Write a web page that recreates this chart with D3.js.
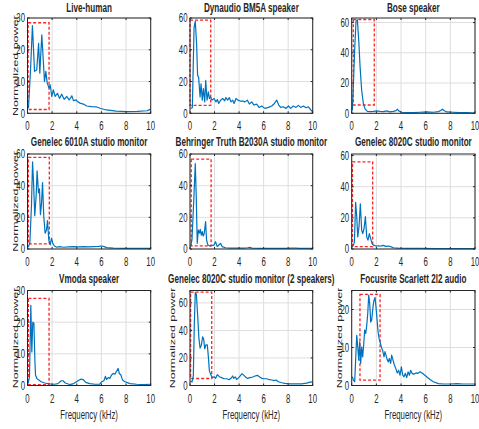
<!DOCTYPE html>
<html>
<head>
<meta charset="utf-8">
<script src="https://cdn.jsdelivr.net/npm/d3@7"></script>
<style>
  body { margin: 0; background: #fff; }
  text { font-family: "Liberation Sans", Arial, sans-serif; fill: #262626; }
</style>
</head>
<body>
<svg width="479" height="429"></svg>
<script>
// panel titles, y limits and y ticks
var titles = ["Live-human", "Dynaudio BM5A speaker", "Bose speaker",
  "Genelec 6010A studio monitor", "Behringer Truth B2030A studio monitor", "Genelec 8020C studio monitor",
  "Vmoda speaker", "Genelec 8020C studio monitor (2 speakers)", "Focusrite Scarlett 2l2 audio"];
var yMax = [30, 60, 63, 60, 60, 61, 30, 69, 25];
var yTicks = [[0,10,20,30],[0,20,40,60],[0,20,40,60],[0,20,40,60],[0,20,40,60],[0,20,40,60],[0,10,20,30],[0,20,40,60],[0,10,20]];
var xTicks = [0, 2, 4, 6, 8, 10];
// red dashed boxes [f0, f1, p0, p1]
var redBoxes = [[0.05,1.75,1.2,28.5],[0,1.69,5,58.6],[0.13,1.83,5.5,62],[0.07,1.77,3.2,57.9],[0.1,1.72,2,56.8],
  [0.06,1.7,1.5,56],[0.07,1.75,0.3,27.5],[0.05,1.77,5.1,67.8],[0.67,2.3,1.4,24]];

// spectra: [frequency kHz, normalized power]
var liveHuman = [[0.08,1.6],[0.25,14],[0.4,27.6],[0.57,13.2],[0.75,13.7],[0.9,22],[1.0,12.6],[1.16,24.7],[1.38,10],[1.49,13.2],[1.6,9.5],[1.76,7.9],[1.84,9],[1.97,5.3],[2.1,7.4],[2.24,5.3],[2.43,6.3],[2.6,4.7],[2.78,6],[2.97,4.4],[3.19,5.3],[3.38,4.2],[3.6,5.5],[3.73,4],[3.95,4.2],[4.05,3.7],[4.27,3.2],[4.54,2.9],[4.8,2.3],[5.2,2.1],[5.6,2.0],[5.9,1.6],[6.4,1.05],[7.2,0.7],[8.05,0.5],[8.9,0.6],[9.7,0.8],[10,1.3]];
var dynaudio = [[0.05,3.1],[0.19,3.5],[0.33,53.8],[0.43,58],[0.54,43.5],[0.62,23.8],[0.7,22.8],[0.82,10.3],[0.9,18.6],[1.0,8.3],[1.09,15.5],[1.2,7.2],[1.28,20.7],[1.39,8.3],[1.5,13.5],[1.58,9.3],[1.68,10.3],[1.79,8.3],[1.96,9.3],[2.12,7.2],[2.23,8.7],[2.34,6.2],[2.5,8.3],[2.66,9.3],[2.83,7.9],[2.93,9.9],[3.07,8.3],[3.2,9.9],[3.34,7.2],[3.48,8.3],[3.59,6.2],[3.75,9.3],[3.91,8.3],[4.08,7.7],[4.3,7.7],[4.48,7.2],[4.67,8.3],[4.84,5.8],[5.03,7.2],[5.22,5.2],[5.43,5.8],[5.63,3.7],[5.84,4.6],[6.11,3.1],[6.39,3.7],[6.66,4.6],[6.88,6.2],[7.07,8.3],[7.23,5.2],[7.39,3.7],[7.6,4.1],[7.83,3.1],[8.02,4.6],[8.2,3.1],[8.42,4.6],[8.64,3.7],[8.83,5.0],[9.02,3.7],[9.24,4.6],[9.46,3.5],[9.65,4.1],[9.84,2.1],[10,1.0]];
var bose = [[0.05,1.8],[0.14,19.6],[0.24,41.8],[0.35,60.7],[0.46,61.8],[0.57,48.4],[0.68,30.7],[0.81,15.1],[0.95,6.2],[1.08,2.9],[1.27,1.3],[1.49,1.1],[1.76,1.3],[2.03,1.6],[2.3,1.3],[2.57,1.1],[2.84,1.6],[3.1,0.9],[3.38,1.3],[3.6,1.8],[3.7,2.7],[3.81,1.6],[4.05,0.7],[4.46,0.4],[5.0,0.4],[5.54,0.7],[6.08,0.9],[6.62,0.7],[7.03,1.1],[7.22,1.8],[7.35,2.7],[7.49,1.8],[7.7,0.9],[8.24,0.7],[8.78,0.4],[9.32,0.4],[10,0.2]];
var genelec6010 = [[0.05,1.1],[0.19,3.6],[0.32,27],[0.41,55],[0.49,42],[0.59,21],[0.7,33.4],[0.78,49.4],[0.89,35.5],[0.97,38],[1.05,21.7],[1.14,29],[1.22,42],[1.32,20.6],[1.43,10],[1.54,12],[1.62,18],[1.73,5.7],[1.84,2.6],[1.95,6.8],[2.05,3.6],[2.19,1.9],[2.38,1.1],[2.59,1.5],[2.92,1.1],[3.32,1.3],[3.73,1.5],[4.14,1.3],[4.54,1.5],[4.95,1.3],[5.35,1.5],[5.76,1.7],[6.03,1.9],[6.22,1.5],[6.43,0.9],[6.97,0.6],[7.78,0.4],[8.86,0.4],[10,0.4]];
var behringer = [[0.05,1.5],[0.16,5.7],[0.32,33],[0.43,54],[0.51,33],[0.59,3.6],[0.68,12],[0.76,10],[0.84,12.4],[0.92,8.8],[1.0,11],[1.08,8.2],[1.16,9.9],[1.27,17.3],[1.35,5.7],[1.46,2.5],[1.62,1.9],[1.81,2.3],[1.95,2.5],[2.08,4.6],[2.22,1.5],[2.35,2.5],[2.49,3.6],[2.62,1.5],[2.89,0.8],[3.3,0.6],[3.84,0.6],[4.38,0.6],[4.7,0.8],[4.86,1.0],[5.05,0.6],[5.73,0.4],[6.81,0.4],[7.89,0.4],[8.3,0.6],[8.57,0.6],[8.97,0.4],[10,0.4]];
var genelec8020 = [[0.05,1.5],[0.14,2.5],[0.22,4.6],[0.32,30],[0.41,20.4],[0.49,7.8],[0.59,14],[0.7,29],[0.81,12],[0.89,9.9],[1.0,13],[1.11,20.8],[1.22,7.8],[1.32,5.7],[1.43,9.9],[1.54,6.7],[1.65,3.6],[1.76,2.5],[1.97,1.9],[2.16,2.1],[2.35,1.9],[2.57,2.3],[2.76,1.7],[2.97,1.9],[3.16,1.5],[3.38,0.8],[3.78,0.6],[4.46,0.4],[5.54,0.4],[6.89,0.2],[8.24,0.2],[10,0.2]];
var vmoda = [[0.05,0.6],[0.16,2.7],[0.27,25.3],[0.35,10.6],[0.43,20],[0.52,19.7],[0.6,8],[0.65,3.3],[0.76,2.2],[0.92,1.7],[1.11,1.2],[1.39,0.8],[1.79,0.5],[2.2,0.4],[2.47,0.6],[2.74,1.5],[2.88,1.5],[3.07,0.8],[3.42,0.3],[3.75,0.6],[4.1,1.5],[4.32,2.0],[4.51,1.9],[4.73,1.0],[5.05,0.6],[5.46,0.4],[5.87,0.4],[6.03,1.2],[6.2,1.5],[6.33,2.9],[6.41,1.9],[6.55,2.5],[6.68,2.2],[6.82,3.3],[6.96,3.8],[7.09,3.6],[7.23,4.5],[7.36,5.4],[7.45,3.8],[7.58,3.3],[7.72,1.7],[7.91,1.2],[8.32,0.6],[8.86,0.4],[9.4,0.3],[10,0.4]];
var genelecTwo = [[0.05,3.2],[0.16,2.5],[0.27,6.9],[0.35,44],[0.43,67.4],[0.52,66.2],[0.62,51.4],[0.73,34],[0.82,27.2],[0.92,29.1],[1.03,35.3],[1.11,34],[1.2,26.7],[1.3,29.6],[1.41,29.6],[1.49,21.7],[1.58,10.6],[1.68,8.1],[1.82,5.7],[1.96,6.4],[2.09,5.2],[2.23,7.9],[2.39,6.4],[2.58,5.7],[2.77,4.9],[2.99,4.9],[3.18,4.2],[3.34,5.2],[3.48,6.9],[3.56,5.2],[3.7,6.2],[3.8,4.4],[3.97,5.7],[4.13,7.4],[4.24,8.6],[4.35,7.7],[4.51,6.4],[4.67,5.2],[4.89,5.7],[5.11,6.2],[5.3,6.9],[5.49,7.4],[5.65,6.4],[5.84,5.2],[6.03,4.9],[6.25,4.9],[6.47,4.2],[6.66,4.0],[6.85,3.5],[7.01,4.0],[7.2,2.7],[7.47,2.0],[7.74,1.5],[8.15,1.2],[8.7,1.2],[9.1,1.2],[9.51,1.7],[9.78,2.5],[10,2.7]];
var focusrite = [[0.05,2.3],[0.14,1.4],[0.24,1.0],[0.32,6.7],[0.41,13.2],[0.49,10.2],[0.57,6.7],[0.65,11.5],[0.73,5.8],[0.81,10.2],[0.89,7.5],[0.97,10.6],[1.05,14.6],[1.14,13.7],[1.22,15.9],[1.3,18.9],[1.38,23.8],[1.46,21.6],[1.54,16.7],[1.62,17.2],[1.7,19.8],[1.78,22],[1.89,23.2],[1.97,20.7],[2.05,17.6],[2.14,14.1],[2.22,12.4],[2.3,11.5],[2.41,10],[2.51,9.3],[2.62,7.5],[2.7,8.9],[2.78,8.0],[2.89,6.7],[2.97,6.2],[3.05,7.1],[3.16,5.8],[3.24,8.0],[3.35,6.7],[3.46,5.4],[3.57,4.5],[3.7,3.3],[3.81,4.0],[3.92,2.7],[4.03,4.9],[4.14,2.7],[4.24,2.3],[4.35,3.2],[4.46,2.1],[4.57,3.6],[4.68,2.7],[4.78,4.0],[4.89,3.2],[5.05,3.0],[5.22,3.3],[5.38,3.2],[5.54,3.6],[5.7,3.3],[5.86,2.9],[6.08,2.3],[6.35,1.6],[6.62,1.0],[7.03,0.5],[7.43,0.4],[7.97,0.4],[8.51,0.5],[9.05,0.4],[10,0.4]];
var series = [liveHuman, dynaudio, bose, genelec6010, behringer, genelec8020, vmoda, genelecTwo, focusrite];

var svg = d3.select("svg");
var colLeft = [27.5, 190, 351.7], colRight = [150.7, 312.7, 475];
var rowTop = [18, 154, 290.5], rowBottom = [113.3, 249, 385.5];
var sx = 0.65;   // text looks squeezed sideways in the original
var showYLabel = [true, false, false, true, false, false, true, true, true];

svg.append("clipPath").attr("id", "lblclip")
  .append("rect").attr("x", 0).attr("y", 288).attr("width", 479).attr("height", 141);

function label(g, x, y, txt, opts) {
  var t = g.append("text")
      .attr("transform", "translate(" + x + "," + y + ") scale(" + sx + ",1)" + (opts.rotate ? " rotate(-90)" : ""))
      .attr("text-anchor", opts.anchor || "middle")
      .attr("font-size", opts.size || 12)
      .attr("font-weight", opts.bold ? "bold" : null)
      .text(txt);
  if (opts.dy) t.attr("dy", opts.dy);
  return t;
}

series.forEach(function(data, i) {
  var c = i % 3, r = Math.floor(i / 3);
  var x = d3.scaleLinear().domain([0, 10]).range([colLeft[c], colRight[c]]);
  var y = d3.scaleLinear().domain([0, yMax[i]]).range([rowBottom[r], rowTop[r]]);
  var g = svg.append("g");

  // grid
  g.selectAll(".gx").data(xTicks).enter().append("line")
      .attr("x1", function(d) { return x(d); }).attr("x2", function(d) { return x(d); })
      .attr("y1", y.range()[0]).attr("y2", y.range()[1])
      .attr("stroke", "#dedede").attr("stroke-width", 1);
  g.selectAll(".gy").data(yTicks[i]).enter().append("line")
      .attr("y1", function(d) { return y(d); }).attr("y2", function(d) { return y(d); })
      .attr("x1", x.range()[0]).attr("x2", x.range()[1])
      .attr("stroke", "#dedede").attr("stroke-width", 1);

  // red dashed region
  var b = redBoxes[i];
  g.append("rect")
      .attr("x", x(b[0])).attr("y", y(b[3]))
      .attr("width", x(b[1]) - x(b[0])).attr("height", y(b[2]) - y(b[3]))
      .attr("fill", "none").attr("stroke", "#f22").attr("stroke-width", 1.3)
      .attr("stroke-dasharray", "3,2");

  // spectrum
  g.append("path").datum(data)
      .attr("fill", "none").attr("stroke", "#0072BD").attr("stroke-width", 1.2)
      .attr("stroke-linejoin", "round")
      .attr("d", d3.line().x(function(d) { return x(d[0]); }).y(function(d) { return y(d[1]); }));

  // box + inward ticks on all sides
  g.append("rect")
      .attr("x", x.range()[0]).attr("y", y.range()[1])
      .attr("width", x.range()[1] - x.range()[0]).attr("height", y.range()[0] - y.range()[1])
      .attr("fill", "none").attr("stroke", "#262626").attr("stroke-width", 1);
  xTicks.forEach(function(t) {
    g.append("line").attr("x1", x(t)).attr("x2", x(t)).attr("y1", y.range()[0]).attr("y2", y.range()[0] - 2).attr("stroke", "#262626");
    g.append("line").attr("x1", x(t)).attr("x2", x(t)).attr("y1", y.range()[1]).attr("y2", y.range()[1] + 2).attr("stroke", "#262626");
    label(g, x(t), y.range()[0] + 17, t, {});
  });
  yTicks[i].forEach(function(t) {
    g.append("line").attr("y1", y(t)).attr("y2", y(t)).attr("x1", x.range()[0]).attr("x2", x.range()[0] + 2).attr("stroke", "#262626");
    g.append("line").attr("y1", y(t)).attr("y2", y(t)).attr("x1", x.range()[1]).attr("x2", x.range()[1] - 2).attr("stroke", "#262626");
    label(g, x.range()[0] - 2.5, y(t), t, {anchor: "end", dy: "0.36em"});
  });

  // title
  var cx = (x.range()[0] + x.range()[1]) / 2;
  label(g, cx, y.range()[1] - (r === 0 ? 6.5 : 8), titles[i], {bold: true, size: 12.5});

  // axis labels
  if (r === 2) label(g, cx, y.range()[0] + 33.5, "Frequency (kHz)", {});
  if (showYLabel[i]) {
    var lx = x.range()[0] - (i === 7 ? 15.5 : 10);
    var t = label(g, lx, (y.range()[0] + y.range()[1]) / 2, "Normalized power", {rotate: true, size: 12.5});
    if (r === 2 && c > 0) g.append("g").attr("clip-path", "url(#lblclip)").node().appendChild(t.node());
  }
});
</script>
</body>
</html>
